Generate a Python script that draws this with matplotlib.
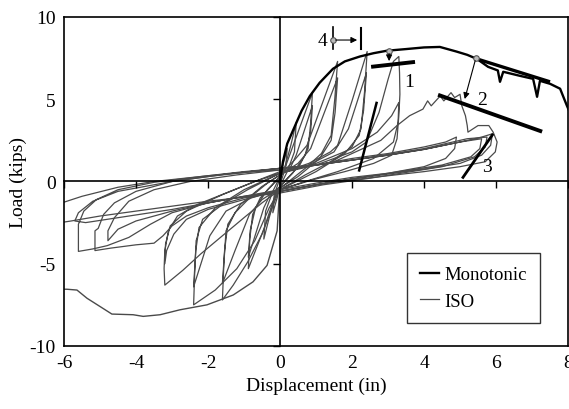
import matplotlib.pyplot as plt

plt.rcParams['font.family'] = ['Liberation Serif', 'DejaVu Serif']
plt.rcParams['axes.unicode_minus'] = False

# monotonic test (black) - positive side
mono_x = [0, 0.08, 0.2, 0.42, 0.6, 0.83, 1.1, 1.47, 1.8, 2.22, 2.6, 2.97, 3.5, 4.0, 4.44,
          4.9, 5.2, 5.47, 5.78, 6.05, 6.11, 6.2, 6.67, 7.03, 7.14, 7.22, 7.5, 7.78, 7.97, 8.05]
mono_y = [0, 1.2, 2.3, 3.4, 4.3, 5.2, 6.0, 6.85, 7.3, 7.6, 7.8, 7.95, 8.05, 8.15, 8.18,
          7.9, 7.7, 7.45, 6.97, 6.75, 6.06, 6.67, 6.42, 6.24, 5.15, 6.12, 5.94, 5.64, 4.6, 4.2]

# monotonic test, negative side (drawn thin)
mneg_x = [0, -0.08, -0.36, -0.75, -1.3, -2.03, -2.78, -3.33, -3.8, -4.08, -4.67, -5.0, -5.36, -5.64, -5.92, -6.1]
mneg_y = [0, -3.0, -5.1, -6.1, -6.9, -7.5, -7.8, -8.1, -8.2, -8.1, -8.06, -7.6, -7.1, -6.6, -6.55, -6.55]

# ISO cyclic test, one pair of arrays per amplitude
c1_x = [0.0, 0.08, 0.2, 0.16, 0.0, -0.08, -0.2, -0.16, 0.0]
c1_y = [0.0, 1.0, 2.0, 0.9, -0.2, -1.0, -1.9, -0.8, 0.2]

c2_x = [0.0, 0.15, 0.3, 0.45, 0.4, 0.2, 0.0, -0.15, -0.3, -0.45, -0.4, -0.2, 0.0]
c2_y = [0.2, 1.0, 2.2, 3.6, 1.8, 0.6, -0.3, -1.0, -2.2, -3.5, -1.8, -0.6, 0.3]

c3_x = [0.0, 0.1, 0.5, 0.9, 0.85, 0.78, 0.55, 0.25, 0.0,
        -0.1, -0.45, -0.88, -0.84, -0.76, -0.55, -0.25, 0.0,
        0.3, 0.45, 0.9, 0.85, 0.7, 0.35, 0.0,
        -0.3, -0.45, -0.88, -0.83, -0.68, -0.35, 0.0]
c3_y = [0.3, 0.6, 3.0, 5.4, 3.5, 2.0, 1.0, 0.3, -0.3,
        -0.6, -2.9, -5.3, -3.5, -2.0, -1.0, -0.3, 0.3,
        0.9, 1.6, 4.6, 3.0, 1.6, 0.5, -0.3,
        -0.9, -1.6, -4.6, -3.0, -1.6, -0.5, 0.3]

c4_x = [0.0, 0.4, 0.75, 1.2, 1.6, 1.52, 1.42, 1.15, 0.7, 0.3, 0.0,
        -0.2, -0.5, -0.9, -1.3, -1.6, -1.56, -1.5, -1.25, -0.8, -0.35, 0.0,
        0.5, 0.85, 1.25, 1.6, 1.53, 1.42, 1.1, 0.5, 0.0,
        -0.5, -0.85, -1.25, -1.6, -1.54, -1.45, -1.1, -0.5, 0.0]
c4_y = [0.4, 1.3, 2.2, 4.9, 7.3, 5.0, 2.8, 1.7, 0.8, 0.1, -0.4,
        -1.5, -3.2, -4.9, -6.3, -7.2, -5.0, -3.0, -1.9, -0.9, -0.1, 0.4,
        1.1, 2.0, 4.3, 6.3, 4.2, 2.5, 1.4, 0.3, -0.4,
        -1.1, -2.0, -4.2, -6.2, -4.2, -2.6, -1.4, -0.3, 0.4]

c5_x = [0.0, 0.8, 1.4, 1.6, 2.0, 2.42, 2.35, 2.25, 2.0, 1.4, 0.7, 0.0,
        -0.3, -0.7, -1.2, -1.8, -2.4, -2.37, -2.33, -2.15, -1.6, -0.9, 0.0,
        0.8, 1.5, 1.9, 2.4, 2.32, 2.2, 1.8, 1.0, 0.0,
        -0.8, -1.5, -1.95, -2.4, -2.34, -2.25, -1.8, -1.0, 0.0]
c5_y = [0.5, 1.1, 1.8, 2.2, 4.9, 7.9, 5.5, 3.2, 2.1, 1.2, 0.4, -0.5,
        -1.6, -3.6, -5.3, -6.6, -7.5, -5.5, -3.6, -2.3, -1.4, -0.5, 0.5,
        1.0, 1.8, 3.2, 6.6, 4.3, 2.8, 1.7, 0.6, -0.5,
        -1.0, -1.8, -3.3, -6.4, -4.2, -2.8, -1.6, -0.5, 0.5]

c6_x = [0.0, 1.0, 2.0, 2.4, 2.75, 3.0, 3.15, 3.3, 3.32, 3.33, 3.3, 3.25, 3.1, 2.6, 1.8, 0.9, 0.0,
        -0.5, -1.0, -1.6, -2.2, -2.7, -3.2, -3.22, -3.2, -3.1, -2.85, -2.3, -1.5, -0.7, 0.0,
        1.0, 2.0, 2.7, 3.1, 3.3, 3.28, 3.15, 2.6, 1.6, 0.7, 0.0,
        -1.0, -2.0, -2.6, -2.95, -3.15, -3.2, -3.18, -3.05, -2.6, -1.6, -0.7, 0.0]
c6_y = [0.5, 1.0, 1.8, 2.4, 4.2, 6.2, 7.3, 7.6, 6.6, 5.3, 4.0, 2.6, 1.6, 1.1, 0.6, 0.1, -0.5,
        -1.3, -2.2, -3.3, -4.4, -5.4, -6.3, -5.3, -4.2, -3.0, -2.1, -1.4, -0.7, 0.0, 0.5,
        1.1, 2.0, 3.0, 4.0, 4.8, 3.6, 2.4, 1.4, 0.6, 0.0, -0.5,
        -1.1, -1.7, -2.3, -3.2, -4.2, -5.0, -3.8, -2.7, -1.8, -0.8, 0.0, 0.6]

c7_x = [0.0, 1.5, 2.8, 3.25, 3.6, 3.97, 4.1, 4.2, 4.45, 4.55, 4.75, 4.85, 5.0, 5.05, 5.15, 5.2, 5.22,
        5.5, 5.8, 5.92, 6.03, 5.98, 5.7, 5.0, 4.0, 3.0, 2.0, 1.0, 0.0,
        -1.0, -2.0, -2.6, -3.0, -3.25, -3.5, -4.0, -4.7, -5.14,
        -5.14, -5.14, -5.05, -4.9, -4.6, -4.0, -3.0, -2.0, -1.0, 0.0,
        1.0, 2.0, 3.0, 4.0, 4.6, 4.9, 4.85, 4.6, 4.0, 3.0, 2.0, 1.0, 0.0,
        -1.0, -2.0, -3.0, -4.0, -4.5, -4.78, -4.78, -4.6, -4.2, -3.5, -2.5, -1.2, 0.0]
c7_y = [0.6, 1.2, 2.5, 3.4, 4.0, 4.4, 4.9, 4.6, 5.2, 4.9, 5.4, 5.1, 5.3, 4.6, 4.0, 3.4, 3.0,
        3.4, 3.4, 3.0, 2.4, 1.8, 1.2, 0.9, 0.6, 0.35, 0.1, -0.2, -0.6,
        -1.0, -1.6, -2.1, -2.7, -3.3, -3.75, -3.85, -4.05, -4.2,
        -3.6, -3.0, -2.85, -2.0, -1.3, -0.6, 0.0, 0.3, 0.55, 0.8,
        1.0, 1.4, 1.7, 2.1, 2.4, 2.7, 2.0, 1.4, 0.9, 0.5, 0.25, -0.1, -0.5,
        -0.9, -1.3, -1.8, -2.4, -2.9, -3.6, -3.0, -2.2, -1.2, -0.5, 0.0, 0.4, 0.7]

c8_x = [0.0, 1.0, 2.0, 3.0, 4.0, 5.0, 5.6, 5.9, 5.85, 5.6, 5.0, 4.0, 3.0, 2.0, 1.0, 0.0,
        -1.0, -2.0, -3.0, -3.6, -4.2, -4.8, -5.2, -5.6,
        -5.6, -5.6, -5.45, -5.1, -4.5, -3.5, -2.0, -1.0, 0.0,
        1.0, 2.0, 3.0, 4.0, 5.0, 5.6, 5.55, 5.3, 4.5, 3.0, 1.5, 0.0,
        -1.5, -3.0, -4.5, -5.4, -5.7, -5.6, -5.2, -4.5, -3.0, -1.5, 0.0]
c8_y = [0.8, 1.0, 1.3, 1.6, 1.95, 2.4, 2.7, 2.9, 2.2, 1.6, 1.1, 0.75, 0.45, 0.15, -0.2, -0.6,
        -0.9, -1.3, -1.9, -2.6, -3.4, -3.9, -4.1, -4.25,
        -3.3, -2.6, -1.8, -1.1, -0.5, -0.05, 0.35, 0.6, 0.8,
        1.0, 1.3, 1.6, 1.95, 2.4, 2.6, 2.0, 1.5, 1.0, 0.5, 0.0, -0.6,
        -1.1, -1.7, -2.2, -2.5, -2.4, -1.9, -1.2, -0.6, 0.0, 0.45, 0.8]

c9_x = [0.0, 1.0, 2.0, 3.0, 4.0, 5.2, 5.75, 5.7, 5.4, 4.5, 3.5, 2.5, 1.2, 0.0,
        -1.0, -2.0, -3.0, -4.0, -5.0, -5.8, -6.4, -6.4, -6.2, -5.5, -4.5, -3.5, -2.0, -1.0, 0.0]
c9_y = [0.7, 1.0, 1.3, 1.65, 2.0, 2.6, 2.7, 2.1, 1.5, 0.9, 0.55, 0.2, -0.2, -0.7,
        -0.95, -1.2, -1.5, -1.8, -2.1, -2.4, -2.6, -1.8, -1.4, -0.9, -0.35, 0.0, 0.35, 0.55, 0.7]

# annotation lines
line1_x, line1_y = [2.53, 3.75], [6.97, 7.27]
line2_x, line2_y = [4.39, 7.28], [5.27, 3.03]
line3_x, line3_y = [5.06, 5.92], [0.18, 2.9]
line0_x, line0_y = [2.19, 2.69], [0.6, 4.85]
trend_x, trend_y = [5.47, 7.5], [7.45, 6.06]

iso_x = [c1_x, c2_x, c3_x, c4_x, c5_x, c6_x, c7_x, c8_x, c9_x]
iso_y = [c1_y, c2_y, c3_y, c4_y, c5_y, c6_y, c7_y, c8_y, c9_y]

fig = plt.figure(figsize=(5.69, 4.10), dpi=100)
ax = fig.add_axes([0.1125, 0.1537, 0.8858, 0.8024])
grey = '#4a4a4a'

for i in range(len(iso_x)):
    ax.plot(iso_x[i], iso_y[i], color=grey, lw=0.9)
iso_line = ax.lines[0]
ax.plot(mneg_x, mneg_y, color=grey, lw=1.0)
mono_line, = ax.plot(mono_x, mono_y, color='black', lw=1.7)

for lx, ly, w in [(line1_x, line1_y, 2.8), (line2_x, line2_y, 2.8), (line3_x, line3_y, 2.0),
                  (line0_x, line0_y, 1.8), (trend_x, trend_y, 2.4)]:
    ax.plot(lx, ly, color='black', lw=w, solid_capstyle='butt')

# arrows with small circles
ax.annotate('', xy=(3.03, 7.15), xytext=(3.03, 7.94),
            arrowprops=dict(arrowstyle='-|>', color='black', lw=0.8, mutation_scale=9))
ax.annotate('', xy=(5.11, 4.85), xytext=(5.44, 7.5),
            arrowprops=dict(arrowstyle='-|>', color='black', lw=0.8, mutation_scale=9))
ax.annotate('', xy=(2.22, 8.6), xytext=(1.47, 8.6),
            arrowprops=dict(arrowstyle='-|>', color='black', lw=0.8, mutation_scale=9))
ax.plot([1.47, 1.47], [8.06, 9.39], color='black', lw=1.2)
ax.plot([2.25, 2.25], [8.06, 9.35], color='black', lw=1.5)
ax.plot([1.47, 3.03, 5.44], [8.6, 7.94, 7.5], 'o', ms=4, mfc='#bbbbbb', mec='#555555', mew=0.8)

ax.text(3.6, 6.1, '1', fontsize=14, ha='center', va='center')
ax.text(5.6, 5.0, '2', fontsize=14, ha='center', va='center')
ax.text(5.75, 0.9, '3', fontsize=14, ha='center', va='center')
ax.text(1.19, 8.55, '4', fontsize=14, ha='center', va='center')

ax.set_xlim(-6, 8)
ax.set_ylim(-10, 10)
ax.set_xticks([-6, -4, -2, 0, 2, 4, 6, 8])
ax.set_yticks([-10, -5, 0, 5, 10])
ax.tick_params(length=0, labelsize=14, pad=6, colors='black')
for s in ax.spines.values():
    s.set_linewidth(1.2)
ax.set_xlabel('Displacement (in)', fontsize=14, labelpad=4)
ax.set_ylabel('Load (kips)', fontsize=14, labelpad=2)

# axes crossing at zero with their own tick marks
axz = fig.add_axes(ax.get_position(), sharex=ax, sharey=ax)
axz.patch.set_visible(False)
axz.spines['left'].set_position(('data', 0))
axz.spines['bottom'].set_position(('data', 0))
axz.spines['top'].set_visible(False)
axz.spines['right'].set_visible(False)
axz.spines['left'].set_linewidth(1.2)
axz.spines['bottom'].set_linewidth(1.2)
axz.tick_params(labelleft=False, labelbottom=False, direction='out', length=5, width=1)

leg = ax.legend(handles=[mono_line, iso_line], labels=['Monotonic', 'ISO'],
                loc='lower left', bbox_to_anchor=(0.68, 0.07), borderaxespad=0,
                fontsize=13.5, frameon=True, fancybox=False, edgecolor='black',
                handlelength=1.0, handletextpad=0.3, borderpad=0.7, labelspacing=0.5)
leg.get_frame().set_linewidth(1.0)

fig.savefig('out.png', dpi=100)
